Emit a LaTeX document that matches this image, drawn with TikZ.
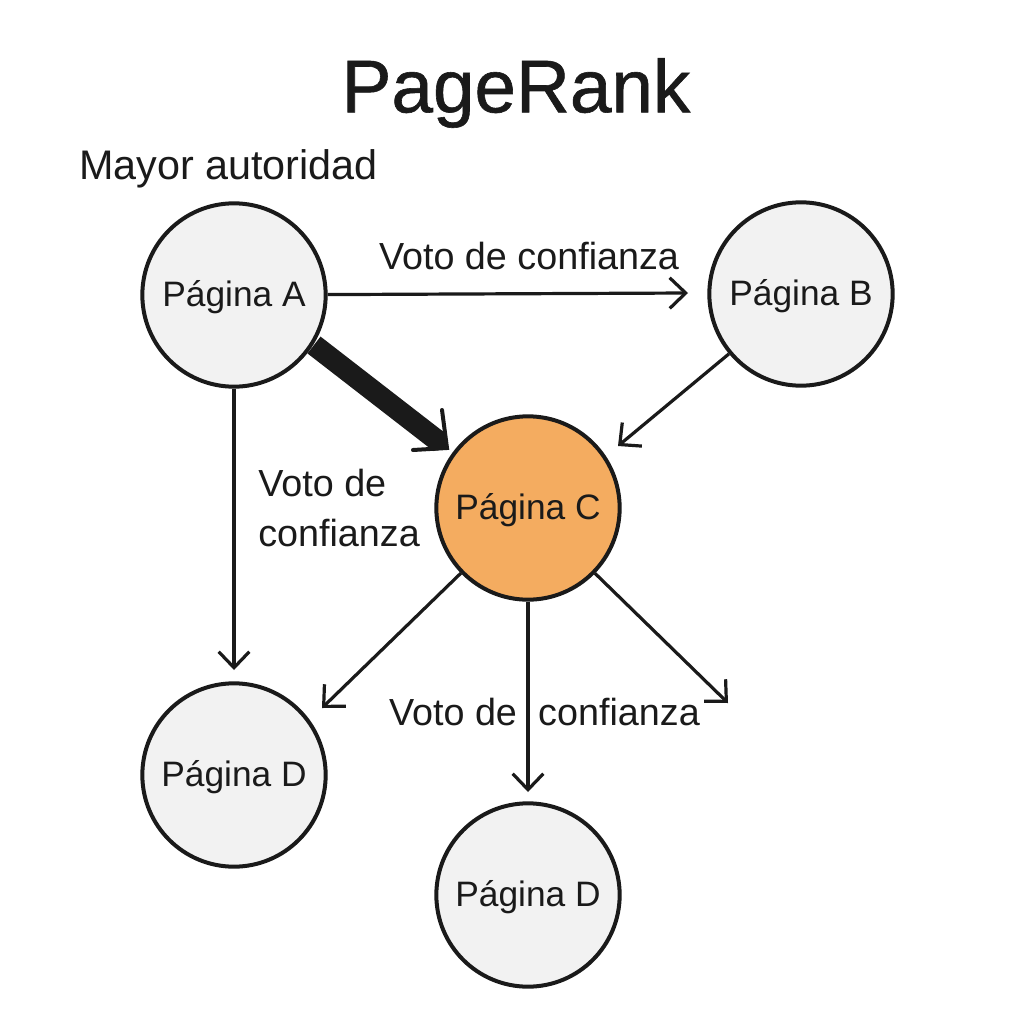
\documentclass[tikz,border=0pt]{standalone}
\usepackage{fontspec}
\usepackage{xcolor}
\setmainfont{Liberation Sans}
\usetikzlibrary{arrows.meta}
\definecolor{pagefill}{HTML}{F2F2F2}
\definecolor{pageorange}{HTML}{F4AC60}
\definecolor{inkblack}{HTML}{1A1A1A}
\tikzset{
  pagina/.style={circle, draw=inkblack, line width=3pt, fill=pagefill, minimum size=137.5pt, inner sep=0pt, font=\fontsize{26.5pt}{31pt}\selectfont, text=inkblack, text depth=0pt, text height=16.5pt},
  voto/.style={draw=inkblack, line width=2.4pt, -{Straight Barb[length=12pt,width=23pt,line width=2.4pt]}},
  etiqueta/.style={font=\fontsize{28.3pt}{38pt}\selectfont, text=inkblack, inner sep=0pt}
}
\begin{document}
\begin{tikzpicture}[x=0.75pt,y=-0.75pt]
    \useasboundingbox (0,0) rectangle (1024,1024);
    \fill[white] (0,0) rectangle (1024,1024);

    % Title
    \node[text=inkblack, inner sep=0pt, font=\fontsize{56pt}{70pt}\selectfont\addfontfeature{FakeBold=0.8}] (titulo) at (516,93) {PageRank};
    \node[etiqueta, anchor=west, font=\fontsize{31pt}{38pt}\selectfont] (autoridad) at (79,169) {Mayor autoridad};

    % Big vote
    \coordinate (puntaA) at (447,448);
    \coordinate (barbaA) at (442,410);
    \coordinate (barbaB) at (413,450);
    \draw[inkblack, line width=16pt, -{Triangle[length=8pt,width=16pt]}, shorten >=-1pt] (314,345) -- (puntaA);
    \draw[inkblack, line width=3pt, line cap=round, line join=miter] (barbaA) -- (puntaA) -- (barbaB);

    % Pages
    \node[pagina] (paginaA) at (234,295) {Página A};
    \node[pagina] (paginaB) at (801,294) {Página B};
    \node[pagina, fill=pageorange] (paginaC) at (528,508) {Página C};
    \node[pagina] (paginaD) at (234,775) {Página D};
    \node[pagina] (paginaE) at (528,895) {Página D};

    % Free ends
    \coordinate (libreAB) at (688,293);
    \coordinate (libreAD) at (234,670);
    \coordinate (libreBC) at (618,446);
    \coordinate (libreCi) at (322,708);
    \coordinate (libreCb) at (528,792);
    \coordinate (libreCd) at (728,703);

    % Votes
    \draw[voto] (paginaA) -- (libreAB);
    \draw[voto] (paginaA) -- (libreAD);
    \draw[voto] (paginaB) -- (libreBC);
    \draw[voto] (paginaC) -- (libreCi);
    \draw[voto] (paginaC) -- (libreCb);
    \draw[voto] (paginaC) -- (libreCd);

    % Labels
    \node[etiqueta] (votoAB) at (529,256) {Voto de confianza};
    \node[etiqueta, align=left, anchor=west] (votoAD) at (258,508) {Voto de\\confianza};
    \node[etiqueta] (votoCi) at (453,712) {Voto de};
    \node[etiqueta] (votoCd) at (619,712) {confianza};
\end{tikzpicture}
\end{document}
